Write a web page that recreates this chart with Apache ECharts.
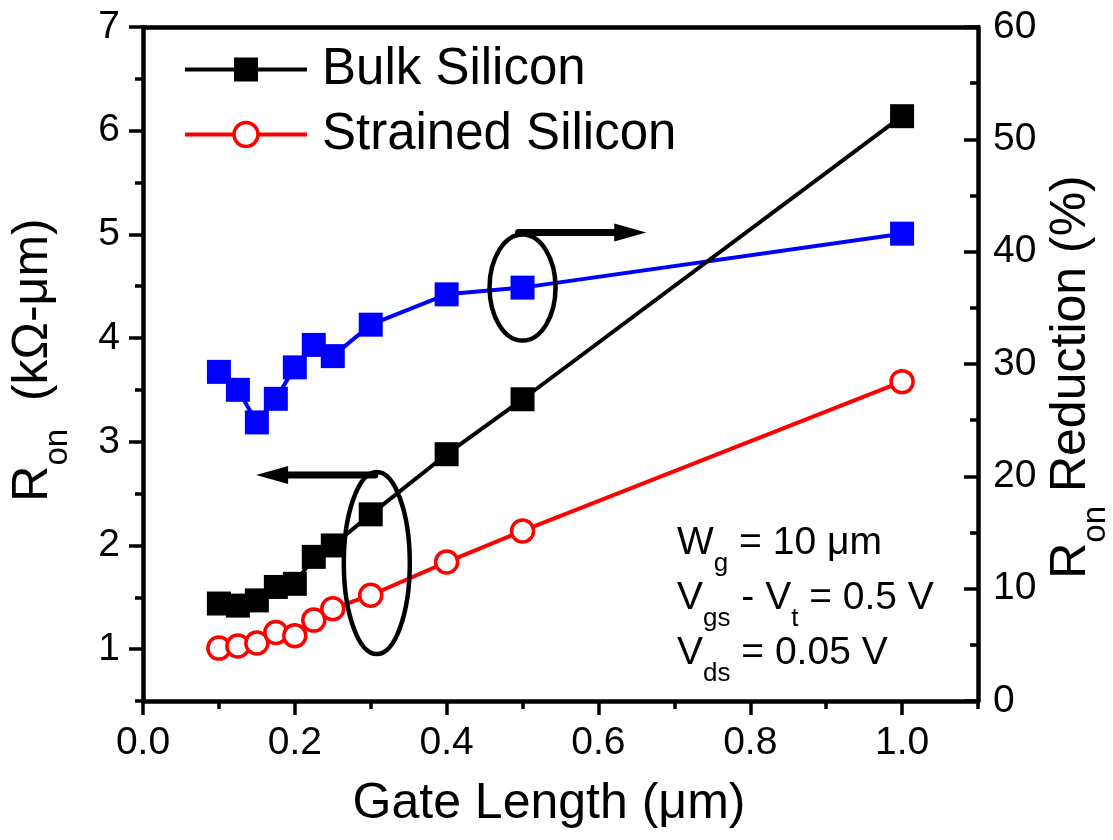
<!DOCTYPE html>
<html>
<head>
<meta charset="utf-8">
<script src="https://cdn.jsdelivr.net/npm/echarts@6/dist/echarts.min.js"></script>
<style>
  html, body { margin: 0; padding: 0; background: #fff; }
  #chart { width: 1113px; height: 840px; }
</style>
</head>
<body>
<div id="chart"></div>
<script>
// Gate length (um) of the measured devices
const gateLength = [0.1, 0.125, 0.15, 0.175, 0.2, 0.225, 0.25, 0.3, 0.4, 0.5, 1.0];
// On-resistance (kOhm-um)
const bulkRon = [1.44, 1.42, 1.47, 1.60, 1.63, 1.89, 2.00, 2.30, 2.88, 3.41, 6.14];
const strainedRon = [1.01, 1.03, 1.06, 1.16, 1.13, 1.28, 1.39, 1.52, 1.84, 2.14, 3.58];
// Relative on-resistance reduction (%)
const ronReduction = [29.3, 27.7, 24.8, 26.9, 29.7, 31.7, 30.7, 33.5, 36.2, 36.8, 41.6];

const seriesNames = ['Bulk Silicon', 'Strained Silicon', 'Ron Reduction'];
const xTitle = 'Gate Length (\u03bcm)';

const FONT = '"Liberation Sans", Arial, Helvetica, sans-serif';
const BLACK = '#000000';
const RED = '#ff0000';
const BLUE = '#0000ff';

const pairs = ys => gateLength.map((x, i) => [x, ys[i]]);

const chart = echarts.init(document.getElementById('chart'), null, { renderer: 'canvas' });

const tickStyle = () => ({ color: BLACK, width: 3.5 });
const axisLine = () => ({ show: true, onZero: false, lineStyle: { color: BLACK, width: 4.5 } });

chart.setOption({
  animation: false,
  backgroundColor: '#ffffff',
  grid: { left: 143, right: 135, top: 27, bottom: 139, containLabel: false },
  legend: {
    orient: 'vertical',
    left: 183,
    top: 44,
    padding: 0,
    itemWidth: 122,
    itemHeight: 30,
    itemGap: 14,
    selectedMode: false,
    data: [seriesNames[0], seriesNames[1]],
    lineStyle: { width: 4 },
    itemStyle: { borderWidth: 'inherit' },
    textStyle: { fontFamily: FONT, fontSize: 51, color: BLACK, padding: [0, 0, 0, 10] }
  },
  xAxis: [
    {
      type: 'value', position: 'bottom', min: 0, max: 1.1, interval: 0.2,
      axisLine: axisLine(),
      axisTick: { show: true, inside: false, length: 14, lineStyle: tickStyle() },
      axisLabel: {
        fontFamily: FONT, fontSize: 39, color: BLACK, margin: 23,
        showMaxLabel: false, formatter: v => v.toFixed(1)
      },
      splitLine: { show: false }
    },
    {
      // minor ticks every 0.1
      type: 'value', position: 'bottom', min: 0, max: 1.1, interval: 0.1,
      axisLine: { show: false },
      axisTick: { show: true, inside: false, length: 8, lineStyle: tickStyle() },
      axisLabel: { show: false },
      splitLine: { show: false }
    },
    {
      type: 'value', position: 'top', min: 0, max: 1.1,
      axisLine: axisLine(),
      axisTick: { show: false }, axisLabel: { show: false }, splitLine: { show: false }
    }
  ],
  yAxis: [
    {
      type: 'value', position: 'left', min: 0.5, max: 7, splitNumber: 6,
      axisLine: axisLine(),
      axisTick: { show: true, inside: false, length: 14, lineStyle: tickStyle() },
      axisLabel: { fontFamily: FONT, fontSize: 39, color: BLACK, margin: 23, showMinLabel: false },
      splitLine: { show: false }
    },
    {
      // minor ticks every 0.5
      type: 'value', position: 'left', min: 0.5, max: 7, interval: 0.5,
      axisLine: { show: false },
      axisTick: { show: true, inside: false, length: 8, lineStyle: tickStyle() },
      axisLabel: { show: false },
      splitLine: { show: false }
    },
    {
      type: 'value', position: 'right', min: 0, max: 60, interval: 10,
      axisLine: axisLine(),
      axisTick: { show: true, inside: true, length: 14, lineStyle: tickStyle() },
      minorTick: { show: true, splitNumber: 2, length: 8, lineStyle: tickStyle() },
      axisLabel: { fontFamily: FONT, fontSize: 39, color: BLACK, margin: 15 },
      splitLine: { show: false }
    }
  ],
  series: [
    {
      name: seriesNames[2], type: 'line', xAxisIndex: 0, yAxisIndex: 2,
      data: pairs(ronReduction),
      symbol: 'rect', symbolSize: 24, silent: true,
      itemStyle: { color: BLUE },
      lineStyle: { color: BLUE, width: 4 },
      z: 3
    },
    {
      name: seriesNames[0], type: 'line', xAxisIndex: 0, yAxisIndex: 0,
      data: pairs(bulkRon),
      symbol: 'rect', symbolSize: 24, silent: true,
      itemStyle: { color: BLACK },
      lineStyle: { color: BLACK, width: 4 },
      z: 4
    },
    {
      name: seriesNames[1], type: 'line', xAxisIndex: 0, yAxisIndex: 0,
      data: pairs(strainedRon),
      symbol: 'circle', symbolSize: 22, silent: true,
      itemStyle: { color: '#ffffff', borderColor: RED, borderWidth: 3.5 },
      lineStyle: { color: RED, width: 4 },
      z: 5
    }
  ]
});

// ---- annotations: titles, condition text, ellipses and arrows ----
const toPx = (x, y, yAxisIndex) =>
  chart.convertToPixel({ xAxisIndex: 0, yAxisIndex: yAxisIndex }, [x, y]);

function richStyle(main, sub, pad) {
  return {
    m: { fontFamily: FONT, fontSize: main, lineHeight: main, verticalAlign: 'top', fill: BLACK },
    s: { fontFamily: FONT, fontSize: sub, lineHeight: sub, verticalAlign: 'top', fill: BLACK,
         padding: [pad, 0, 0, 0] }
  };
}

const condRich = richStyle(39, 26, 27);
const titleRich = richStyle(50, 33, 33);

function condLine(y, text) {
  return {
    type: 'text', x: 677, y: y, silent: true, z: 20,
    style: { text: text, rich: condRich, align: 'left', verticalAlign: 'top', fill: BLACK }
  };
}

// lower ellipse around the bulk point at 0.3 um (left axis)
const lowC = toPx(0.308, 1.83, 0);
const lowRy = 91, lowRx = 33;
const lowTip = toPx(0.149, 1.83, 0)[0];
const lowY = lowC[1] - lowRy + 3;
// upper ellipse around the reduction point at 0.5 um (right axis)
const upC = toPx(0.5, 36.8, 2);
const upRy = 53, upRx = 33;
const upTip = toPx(0.663, 36.8, 2)[0];
const upY = upC[1] - upRy - 2;

const head = 32, half = 9;

chart.setOption({
  graphic: [
    {
      type: 'ellipse', silent: true, z: 10,
      shape: { cx: lowC[0], cy: lowC[1], rx: lowRx, ry: lowRy },
      style: { fill: 'none', stroke: BLACK, lineWidth: 4.5 }
    },
    {
      type: 'line', silent: true, z: 10,
      shape: { x1: lowC[0] - 2, y1: lowY, x2: lowTip + head - 4, y2: lowY },
      style: { stroke: BLACK, lineWidth: 7, lineCap: 'round' }
    },
    {
      type: 'polygon', silent: true, z: 10,
      shape: { points: [[lowTip, lowY], [lowTip + head, lowY - half], [lowTip + head, lowY + half]] },
      style: { fill: BLACK }
    },
    {
      type: 'ellipse', silent: true, z: 10,
      shape: { cx: upC[0], cy: upC[1], rx: upRx, ry: upRy },
      style: { fill: 'none', stroke: BLACK, lineWidth: 4.5 }
    },
    {
      type: 'line', silent: true, z: 10,
      shape: { x1: upC[0] - 4, y1: upY, x2: upTip - head + 4, y2: upY },
      style: { stroke: BLACK, lineWidth: 7, lineCap: 'round' }
    },
    {
      type: 'polygon', silent: true, z: 10,
      shape: { points: [[upTip, upY], [upTip - head, upY - half], [upTip - head, upY + half]] },
      style: { fill: BLACK }
    },
    condLine(524, '{m|W}{s|g}{m| = 10 \u03bcm}'),
    condLine(579, '{m|V}{s|gs}{m| - V}{s|t}{m| = 0.5 V}'),
    condLine(634, '{m|V}{s|ds}{m| = 0.05 V}'),
    {
      type: 'text', x: 549, y: 804, silent: true, z: 20,
      style: { text: xTitle, fontFamily: FONT, fontSize: 50, fill: BLACK, align: 'center', verticalAlign: 'middle' }
    },
    {
      type: 'text', x: 8, y: 360, rotation: Math.PI / 2, silent: true, z: 20,
      style: { text: '{m|R}{s|on}{m|  (k\u03a9-\u03bcm)}', rich: titleRich, align: 'center', verticalAlign: 'top', fill: BLACK }
    },
    {
      type: 'text', x: 1046, y: 377, rotation: Math.PI / 2, silent: true, z: 20,
      style: { text: '{m|R}{s|on}{m| Reduction (%)}', rich: titleRich, align: 'center', verticalAlign: 'top', fill: BLACK }
    }
  ]
});
</script>
</body>
</html>
